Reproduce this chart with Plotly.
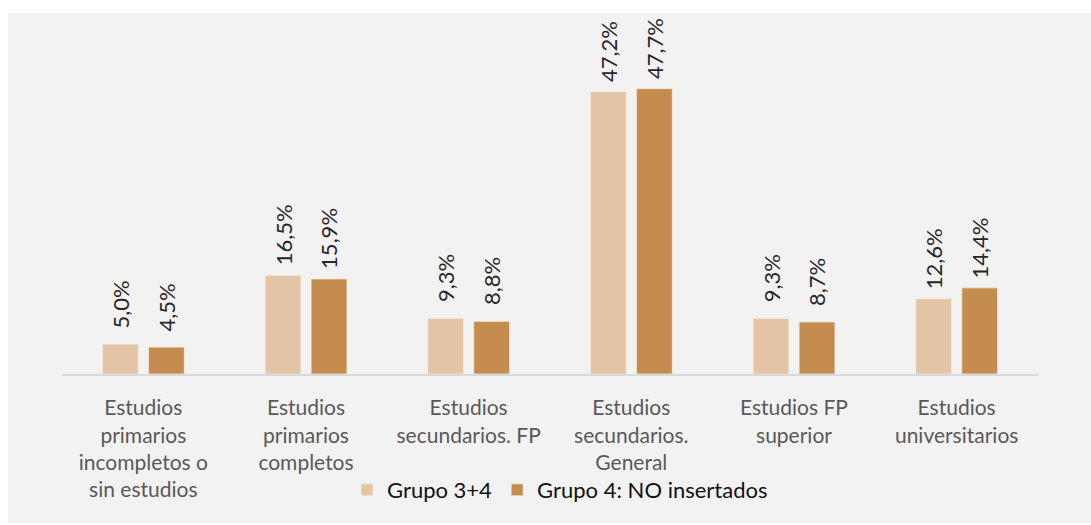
import plotly.graph_objects as go

categories = [
    "Estudios<br>primarios<br>incompletos o<br>sin estudios",
    "Estudios<br>primarios<br>completos",
    "Estudios<br>secundarios. FP",
    "Estudios<br>secundarios.<br>General",
    "Estudios FP<br>superior",
    "Estudios<br>universitarios",
]
series_names = ["Grupo 3+4", "Grupo 4: NO insertados"]
grupo_3_4 = [5.0, 16.5, 9.3, 47.2, 9.3, 12.6]
grupo_4_no = [4.5, 15.9, 8.8, 47.7, 8.7, 14.4]

colors = ["#E3C4A4", "#C48D4F"]
FONT = "Lato"

W, H = 1091, 525
ML, MR, MT, MB = 62, 53, 45, 151
plot_h = H - MT - MB
plot_w = W - ML - MR
base_px = H - MB  # pixel row of the category axis


def paper_y(px):
    return (base_px - px) / plot_h


def paper_x(px):
    return (px - ML) / plot_w


fig = go.Figure()
for name, vals, col in zip(series_names, [grupo_3_4, grupo_4_no], colors):
    fig.add_trace(go.Bar(
        x=categories, y=vals, name=name,
        marker=dict(color=col, line=dict(color="#F6EEE6", width=0.8)),
        hoverinfo="skip",
    ))

# rotated value labels above each bar
annotations = []
for vals, dx in [(grupo_3_4, -23), (grupo_4_no, 23)]:
    for cat, v in zip(categories, vals):
        annotations.append(dict(
            x=cat, y=v, xref="x", yref="y",
            text=f"{v:.1f}%".replace(".", ","),
            showarrow=False, textangle=-90,
            xshift=dx, yshift=40,
            xanchor="center", yanchor="middle",
            font=dict(family=FONT, size=22, color="#262626"),
        ))

# light grey panel behind the chart
shapes = [dict(
    type="rect", xref="paper", yref="paper", layer="below",
    x0=paper_x(8), x1=paper_x(W),
    y0=paper_y(523), y1=paper_y(13),
    fillcolor="#F2F2F2", line=dict(width=0),
)]

fig.update_layout(
    width=W, height=H,
    margin=dict(l=ML, r=MR, t=MT, b=MB),
    paper_bgcolor="white",
    plot_bgcolor="rgba(0,0,0,0)",
    barmode="group",
    bargap=0.434,
    bargroupgap=0.22,
    font=dict(family=FONT, size=21, color="#595959"),
    showlegend=True,
    legend=dict(
        orientation="h", x=paper_x(560), xanchor="center",
        y=paper_y(490), yanchor="middle",
        font=dict(family=FONT, size=22, color="#111111"),
        bgcolor="rgba(0,0,0,0)",
        traceorder="normal",
    ),
    annotations=annotations,
    shapes=shapes,
    xaxis=dict(
        showline=True, linecolor="#D9D9D9", linewidth=2,
        ticks="", showgrid=False, ticklabelstandoff=14,
        tickfont=dict(family=FONT, size=21, color="#595959"),
    ),
    yaxis=dict(
        range=[0, 55], visible=False, showgrid=False, zeroline=False,
    ),
)

fig.write_html("out.html")
